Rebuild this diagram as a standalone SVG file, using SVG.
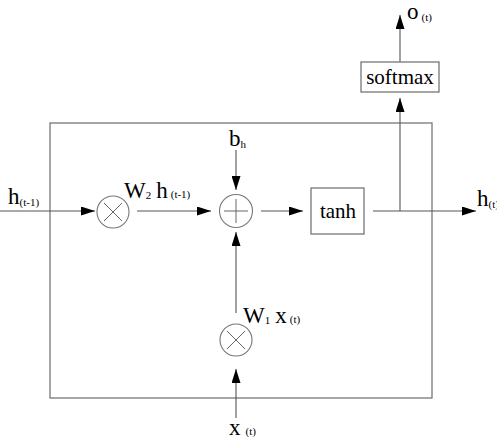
<svg xmlns="http://www.w3.org/2000/svg" width="497" height="442" viewBox="0 0 497 442">
<defs>
<marker id="ah" markerWidth="14" markerHeight="9" refX="14" refY="4.5" orient="auto" markerUnits="userSpaceOnUse">
<path d="M0,0 L14,4.5 L0,9 Z" fill="#000"/>
</marker>
<style>
.ln{stroke:#555;stroke-width:1.1;fill:none}
.bx{stroke:#777;stroke-width:1.3;fill:#fff}
.op{stroke:#777;stroke-width:1.1;fill:#fff}
.sym{stroke:#666;stroke-width:1}
text{font-family:'Liberation Serif','Times New Roman',serif;fill:#000}
.t{font-size:21px}
.v{font-size:23px}
.s{font-size:11px}
</style>
</defs>
<rect width="497" height="442" fill="#fff"/>
<g id="cell"><rect class="bx" x="50" y="123" width="382" height="275"/></g>
<g id="connectors">
<line class="ln" x1="0" y1="211" x2="95" y2="211" marker-end="url(#ah)"/>
<line class="ln" x1="137" y1="211" x2="211" y2="211" marker-end="url(#ah)"/>
<line class="ln" x1="261" y1="211" x2="303" y2="211" marker-end="url(#ah)"/>
<line class="ln" x1="373" y1="211" x2="476" y2="211" marker-end="url(#ah)"/>
<line class="ln" x1="400" y1="211" x2="400" y2="98" marker-end="url(#ah)"/>
<line class="ln" x1="400" y1="62" x2="400" y2="15" marker-end="url(#ah)"/>
<line class="ln" x1="236" y1="150" x2="236" y2="190" marker-end="url(#ah)"/>
<line class="ln" x1="236" y1="313" x2="236" y2="232" marker-end="url(#ah)"/>
<line class="ln" x1="236" y1="418" x2="236" y2="369" marker-end="url(#ah)"/>
</g>
<g id="mul1">
<circle class="op" cx="113" cy="212" r="16"/>
<line class="sym" x1="104" y1="203" x2="122" y2="221"/>
<line class="sym" x1="122" y1="203" x2="104" y2="221"/>
</g>
<g id="add">
<circle class="op" cx="236" cy="211" r="16.5"/>
<line class="sym" x1="224" y1="211" x2="248" y2="211"/>
<line class="sym" x1="236" y1="199" x2="236" y2="223"/>
</g>
<g id="mul2">
<circle class="op" cx="236" cy="340" r="16"/>
<line class="sym" x1="227" y1="331" x2="245" y2="349"/>
<line class="sym" x1="245" y1="331" x2="227" y2="349"/>
</g>
<g id="tanh">
<rect class="bx" x="311" y="188" width="53" height="46"/>
<text class="t" x="338" y="218" text-anchor="middle" font-family="Liberation Serif, serif">tanh</text>
</g>
<g id="softmax">
<rect class="bx" x="361" y="62" width="78" height="30"/>
<text class="t" x="400" y="84" text-anchor="middle" font-family="Liberation Serif, serif">softmax</text>
</g>
<g id="labels" font-family="Liberation Serif, serif">
<text x="8" y="204"><tspan class="v">h</tspan><tspan class="s" dy="2">(t-1)</tspan></text>
<text x="124" y="198"><tspan class="v">W</tspan><tspan class="s" dy="1">2</tspan><tspan class="v" dy="-1" dx="5">h</tspan><tspan class="s" dx="3">(t-1)</tspan></text>
<text x="229" y="146"><tspan class="v">b</tspan><tspan class="s" dy="2">h</tspan></text>
<text x="243" y="323"><tspan class="v">W</tspan><tspan class="s" dy="1">1</tspan><tspan class="v" dy="-1" dx="5">x</tspan><tspan class="s" dx="3">(t)</tspan></text>
<text x="229" y="435"><tspan class="v">x</tspan><tspan class="s" dx="5">(t)</tspan></text>
<text x="407" y="19"><tspan class="v">o</tspan><tspan class="s" dx="3" dy="2">(t)</tspan></text>
<text x="477" y="206"><tspan class="v">h</tspan><tspan class="s" dy="2">(t)</tspan></text>
</g>
</svg>
